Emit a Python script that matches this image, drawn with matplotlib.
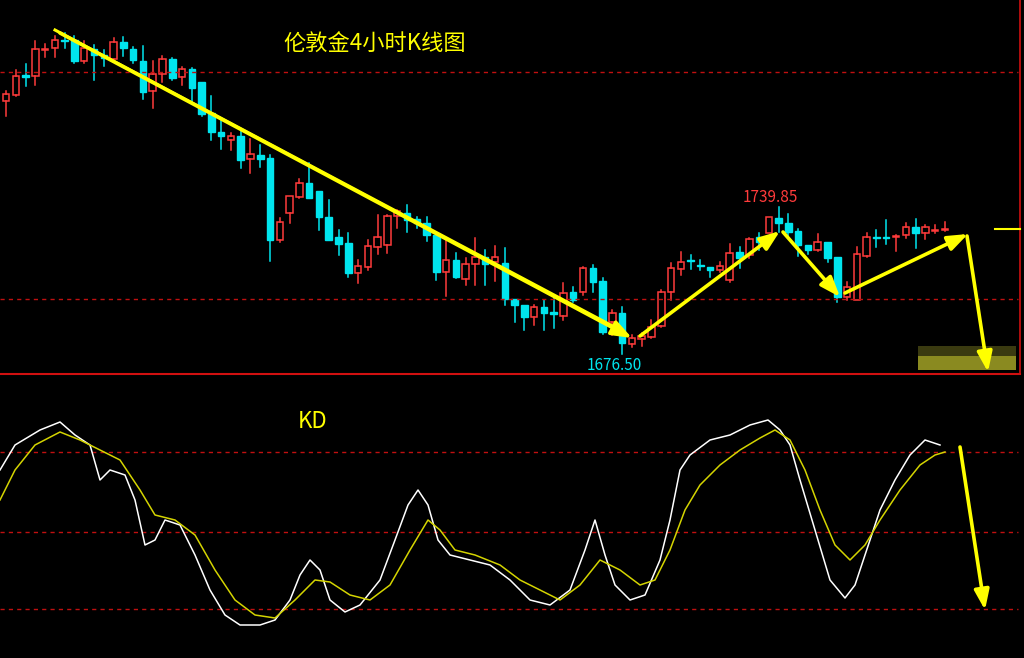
import matplotlib
matplotlib.use("Agg")
import matplotlib.pyplot as plt
from matplotlib.patches import Rectangle
import numpy as np

plt.rcParams['font.family'] = ['Noto Sans CJK SC', 'DejaVu Sans']

# candle readings: body top, body bottom, wick top, wick bottom (screen rows), up flag
tops = [94,76,75,49,49,40,40,40,48,49,55,42,42,49,61,74,59,59,69,69,82,113,132,136,136,154,155,158,222,196,183,183,191,217,237,243,266,246,237,216,211,213,219,223,235,260,260,264,257,257,257,263,299,305,307,307,312,293,292,268,268,281,313,313,338,336,327,292,268,262,260,265,267,266,253,252,239,237,217,218,223,231,245,242,242,257,287,254,237,237,237,236,227,227,227,230,229]
bots = [101,95,77,76,50,48,41,61,61,55,58,59,48,60,92,91,74,78,77,88,114,132,136,140,160,159,159,240,240,213,197,198,217,240,244,273,273,267,247,245,216,220,223,235,272,272,277,279,264,264,262,299,305,317,317,313,314,316,300,292,282,332,322,343,344,339,337,326,292,269,261,266,270,270,280,258,255,242,233,223,232,245,250,250,258,297,297,300,256,238,238,237,235,233,233,231,230]
whi = [91,70,64,41,44,36,33,36,41,45,50,38,37,47,46,61,56,58,67,68,82,96,119,133,130,139,145,155,218,196,179,163,191,200,230,233,260,240,215,215,210,205,217,217,235,240,253,258,238,250,246,248,299,305,305,300,298,283,287,267,265,278,310,307,335,333,320,290,263,252,255,260,267,262,244,247,238,233,217,207,214,229,245,234,242,257,282,247,233,230,220,235,223,219,225,225,222]
wlo = [116,96,86,85,57,57,48,63,63,80,66,62,56,63,99,108,82,80,85,102,116,140,149,150,168,173,167,261,242,223,198,198,230,240,255,277,283,270,254,253,228,232,228,241,280,296,278,285,285,285,281,305,322,330,325,330,328,320,302,295,292,334,335,354,347,346,338,327,300,275,269,270,277,272,282,268,258,250,233,232,238,256,254,251,262,302,300,300,257,247,244,251,238,248,239,233,231]
up = [1,1,0,1,1,1,0,0,1,0,0,1,0,0,0,1,1,0,1,0,0,0,0,1,0,1,0,0,1,1,1,0,0,0,0,0,1,1,1,1,1,0,0,0,0,1,0,1,1,0,1,0,0,0,1,0,0,1,0,1,0,0,1,0,1,1,1,1,1,1,0,0,0,1,1,0,1,0,1,0,0,0,0,1,0,0,1,1,1,0,0,1,1,0,1,1,1]

k_x = [0,15,40,60,75,90,100,110,125,135,145,155,165,180,195,210,225,240,260,275,290,300,310,320,330,345,360,380,395,408,418,428,438,450,470,490,510,530,550,570,585,595,605,615,630,645,660,670,680,690,710,730,750,768,780,790,800,815,830,845,855,865,880,895,910,925,940]
k_y = [470,445,430,422,435,445,480,470,475,500,545,540,520,525,555,590,615,625,625,620,600,575,560,570,600,612,605,580,540,505,490,505,540,555,560,565,580,600,605,590,550,520,555,585,600,595,560,520,470,455,440,435,425,420,430,445,480,530,580,598,585,555,510,480,455,440,445]
d_x = [0,15,35,60,80,100,120,140,155,175,195,215,235,255,275,295,315,330,350,370,390,410,428,440,455,475,500,520,540,560,580,600,620,640,655,670,685,700,720,740,760,775,790,805,820,835,850,865,880,900,920,935,945]
d_y = [500,470,445,432,440,450,460,490,515,520,535,570,600,615,618,600,580,582,595,600,585,550,520,530,550,555,565,580,590,600,585,560,570,585,580,550,510,485,465,450,438,430,440,470,510,545,560,545,520,490,465,455,452]

W, H = 1024, 658
fig = plt.figure(figsize=(W/100, H/100), dpi=100, facecolor='black')
ax = fig.add_axes([0, 0, 1, 1], facecolor='black')
ax.set_xlim(0, W); ax.set_ylim(H, 0); ax.axis('off')

RED = '#ff3b3b'; CY = '#00e5ee'; YL = '#ffff00'
n = len(tops)
xs = 6 + 9.78 * np.arange(n)
bw = 6.5
for i in range(n):
    c = RED if up[i] else CY
    ax.plot([xs[i], xs[i]], [whi[i], tops[i]], color=c, lw=1.1)
    ax.plot([xs[i], xs[i]], [bots[i], wlo[i]], color=c, lw=1.1)
    h = max(bots[i] - tops[i], 0.8)
    if up[i]:
        ax.add_patch(Rectangle((xs[i]-bw/2, tops[i]), bw, h, fill=False, ec=c, lw=1.1))
    else:
        ax.add_patch(Rectangle((xs[i]-bw/2, tops[i]), bw, h, fc=c, ec=c, lw=1))

for y in [72, 299, 452, 532, 609]:
    ax.plot([0, 1018], [y, y], color='#c01010', lw=1, ls=(0, (3, 3)))
ax.plot([0, 1020], [374, 374], color='#d01010', lw=1.5)
ax.plot([1020, 1020], [0, 374], color='#d01010', lw=1.2)
ax.plot([995, 1020], [229, 229], color=YL, lw=1.5)

ax.plot(k_x, k_y, color='white', lw=1.1)
ax.plot(d_x, d_y, color='#d4d400', lw=1.1)

ax.plot([55, 620], [30, 330], color=YL, lw=2.2)
arrows = [((60, 33), (632, 338)), ((640, 336), (780, 231)), ((783, 232), (840, 297)),
          ((845, 293), (968, 234)), ((967, 236), (988, 372)), ((960, 447), (985, 610))]
for (x0, y0), (x1, y1) in arrows:
    ax.annotate('', xy=(x1, y1), xytext=(x0, y0),
                arrowprops=dict(arrowstyle='-|>,head_length=1.2,head_width=0.45', color=YL, lw=2.6, shrinkA=0, shrinkB=0))

ax.add_patch(Rectangle((918, 346), 98, 12, fc='#3a3a10', ec='none'))
ax.add_patch(Rectangle((918, 356), 98, 14, fc='#8a8a20', ec='none'))

ax.text(283, 44, '伦敦金4小时K线图', color=YL, fontsize=16, va='center')
ax.text(298, 422, 'KD', color=YL, fontsize=16, va='center')
ax.text(743, 197, '1739.85', color=RED, fontsize=11, va='center')
ax.text(587, 366, '1676.50', color=CY, fontsize=11, va='center')

fig.savefig('out.png', dpi=100, facecolor='black')
